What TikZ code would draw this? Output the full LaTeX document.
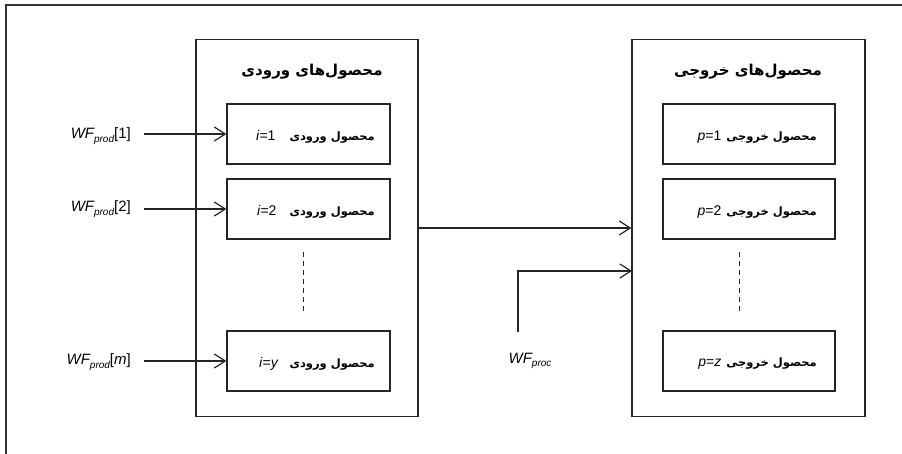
\documentclass[tikz,border=0pt]{standalone}
\usepackage{fontspec}
\setmainfont{Liberation Sans}
\newfontfamily\arabicfont[Script=Arabic]{DejaVu Sans}
\TeXXeTstate=1
\usetikzlibrary{arrows.meta}
\newcommand{\wfsub}[1]{{\itshape WF}\raisebox{-0.45ex}{\fontsize{10}{10}\selectfont\itshape #1}}
\newcommand{\fa}[1]{{\arabicfont\bfseries\beginR #1\endR}}
\newcommand{\fas}[1]{{\fontsize{11.5}{14}\arabicfont\bfseries\beginR #1\endR}}
\begin{document}
\begin{tikzpicture}[x=1pt,y=-1pt,
  outerbox/.style={draw=black!85, line width=1.3pt, minimum width=222pt, minimum height=377pt, inner sep=0pt},
  outerboxR/.style={outerbox, minimum width=233pt},
  innerbox/.style={draw=black!85, line width=1.2pt, minimum width=163pt, minimum height=60pt, inner sep=0pt},
  innerboxR/.style={innerbox, minimum width=172pt},
  title/.style={font=\fontsize{15}{18}\selectfont, inner sep=0pt},
  itemtxt/.style={font=\fontsize{14}{17}\selectfont, inner sep=0pt, anchor=east},
  wflab/.style={font=\fontsize{15}{18}\selectfont, inner sep=0pt},
  arr/.style={line width=1.2pt, draw=black!85, -{Straight Barb[length=11pt,width=14pt,line width=1.2pt]}},
  dashline/.style={draw=black!85, line width=1pt, dash pattern=on 5pt off 4pt}
]
\useasboundingbox (0,0) rectangle (902,454);
% outer frame (top and left edges visible)
\coordinate (fr1) at (902,5);
\coordinate (fr2) at (6,5);
\coordinate (fr3) at (6,454);
\draw[line width=1.3pt, draw=black!80] (fr1) -- (fr2) -- (fr3);

% big boxes
\node[outerbox] (L) at (307,228) {};
\node[outerboxR] (R) at (748.5,228) {};
\node[title] (Lt) at (312,72) {\fa{محصول‌های ورودی}};
\node[title] (Rt) at (748,72) {\fa{محصول‌های خروجی}};

% left inner boxes
\node[innerbox] (b1) at (308.5,134) {};
\node[innerbox] (b2) at (308.5,209) {};
\node[innerbox] (b3) at (308.5,361) {};
\node[itemtxt] (t1) at (375,137) {\textit{i}=1\hspace{14pt}\fas{محصول ورودی}};
\node[itemtxt] (t2) at (375,212) {\textit{i}=2\hspace{13pt}\fas{محصول ورودی}};
\node[itemtxt] (t3) at (375,364) {\textit{i}=\textit{y}\hspace{11pt}\fas{محصول ورودی}};
\coordinate (dL1) at (303,252);
\coordinate (dL2) at (303,311);
\draw[dashline] (dL1) -- (dL2);

% right inner boxes
\node[innerboxR] (c1) at (749,134) {};
\node[innerboxR] (c2) at (749,209) {};
\node[innerboxR] (c3) at (749,361) {};
\node[itemtxt] (u1) at (817,137) {\textit{p}=1\hspace{5pt}\fas{محصول خروجی}};
\node[itemtxt] (u2) at (817,212) {\textit{p}=2\hspace{5pt}\fas{محصول خروجی}};
\node[itemtxt] (u3) at (817,364) {\textit{p}=\textit{z}\hspace{5pt}\fas{محصول خروجی}};
\coordinate (dR1) at (739,252);
\coordinate (dR2) at (739,311);
\draw[dashline] (dR1) -- (dR2);

% input labels and arrows
\node[wflab, anchor=east] (w1) at (131,136) {\wfsub{prod}[1]};
\node[wflab, anchor=east] (w2) at (131,209) {\wfsub{prod}[2]};
\node[wflab, anchor=east] (w3) at (131,362) {\wfsub{prod}[\textit{m}]};
\draw[arr] (w1.east |- b1.west) ++(13,0) -- (b1.west);
\draw[arr] (w2.east |- b2.west) ++(13,0) -- (b2.west);
\draw[arr] (w3.east |- b3.west) ++(13,0) -- (b3.west);

% middle arrows
\draw[arr] (L.east) -- (R.west);
\node[wflab] (wp) at (530,361) {\wfsub{proc}};
\coordinate (ps) at (518,332);
\coordinate (pe) at (632,271);
\draw[arr] (ps) |- (pe);
\end{tikzpicture}
\end{document}
